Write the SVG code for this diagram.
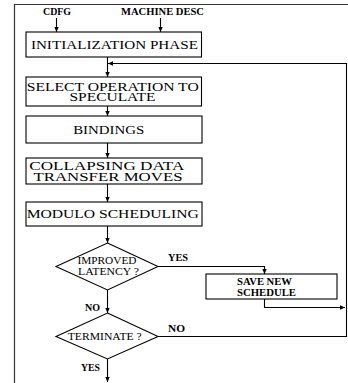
<svg xmlns="http://www.w3.org/2000/svg" width="348" height="383" viewBox="0 0 348 383">
  <style>
    .box { fill: #ffffff; stroke: #000000; stroke-width: 1.1; }
    .line { fill: none; stroke: #000000; stroke-width: 1.1; marker-end: url(#arrow); }
    .plain { fill: none; stroke: #333333; stroke-width: 1.2; }
    text { font-family: "Liberation Serif", "Times New Roman", serif; fill: #000000; text-anchor: middle; }
    .big { font-size: 13px; }
    .small { font-size: 10.5px; font-weight: bold; }
    .mid { font-size: 11px; }
  </style>
  <defs>
    <marker id="arrow" markerWidth="6" markerHeight="6" refX="5" refY="3" orient="auto" markerUnits="userSpaceOnUse">
      <path d="M0,0.8 L5,3 L0,5.2 Z" fill="#000000"/>
    </marker>
  </defs>
  <rect width="348" height="383" fill="#ffffff"/>

  <!-- outer frame -->
  <path class="plain" d="M14.5,383 V4.5 H348"/>

  <!-- connectors -->
  <g id="connectors">
    <line class="line" x1="56.5" y1="18" x2="56.5" y2="32"/>
    <line class="line" x1="160.5" y1="18" x2="160.5" y2="32"/>
    <line class="line" x1="107.5" y1="57" x2="107.5" y2="77"/>
    <line class="line" x1="107.5" y1="106" x2="107.5" y2="116"/>
    <line class="line" x1="107.5" y1="143" x2="107.5" y2="158"/>
    <line class="line" x1="107.5" y1="184" x2="107.5" y2="202"/>
    <line class="line" x1="107.5" y1="226" x2="107.5" y2="243"/>
    <polyline class="line" points="158,266.5 264.5,266.5 264.5,274"/>
    <polyline class="line" points="264.5,299 264.5,307.5 345,307.5"/>
    <line class="line" x1="107.5" y1="290" x2="107.5" y2="313"/>
    <polyline class="line" points="158,336.5 346.5,336.5 346.5,63.5 108,63.5"/>
    <line class="line" x1="107.5" y1="359" x2="107.5" y2="382"/>
    <text class="small" x="178" y="261" textLength="20" lengthAdjust="spacingAndGlyphs">YES</text>
    <text class="small" x="92.5" y="311" textLength="15" lengthAdjust="spacingAndGlyphs">NO</text>
    <text class="small" x="176.5" y="332" textLength="17" lengthAdjust="spacingAndGlyphs">NO</text>
    <text class="small" x="90.5" y="371" textLength="19" lengthAdjust="spacingAndGlyphs">YES</text>
  </g>

  <!-- inputs -->
  <g id="inputs">
    <text class="small" x="57" y="15" textLength="28" lengthAdjust="spacingAndGlyphs">CDFG</text>
    <text class="small" x="162.5" y="15" textLength="83" lengthAdjust="spacingAndGlyphs">MACHINE DESC</text>
  </g>

  <g id="init">
    <rect class="box" x="26" y="32" width="175.5" height="25"/>
    <text class="big" x="114.4" y="48.5" textLength="167" lengthAdjust="spacingAndGlyphs">INITIALIZATION PHASE</text>
  </g>

  <g id="select">
    <rect class="box" x="26" y="77" width="175.5" height="29"/>
    <text class="big" x="112.7" y="90.5" textLength="172" lengthAdjust="spacingAndGlyphs">SELECT OPERATION TO</text>
    <text class="big" x="112.5" y="100.5" textLength="86" lengthAdjust="spacingAndGlyphs">SPECULATE</text>
  </g>

  <g id="bindings">
    <rect class="box" x="26" y="116" width="176" height="27"/>
    <text class="big" x="108.7" y="133.5" textLength="71" lengthAdjust="spacingAndGlyphs">BINDINGS</text>
  </g>

  <g id="collapsing">
    <rect class="box" x="26" y="158" width="176" height="26"/>
    <text class="big" x="106.8" y="170" textLength="155" lengthAdjust="spacingAndGlyphs">COLLAPSING DATA</text>
    <text class="big" x="108" y="180.5" textLength="149" lengthAdjust="spacingAndGlyphs">TRANSFER MOVES</text>
  </g>

  <g id="modulo">
    <rect class="box" x="26" y="202" width="176" height="24"/>
    <text class="big" x="112.7" y="218" textLength="172" lengthAdjust="spacingAndGlyphs">MODULO SCHEDULING</text>
  </g>

  <g id="improved">
    <polygon class="box" points="107.5,243 158,266.5 107.5,290 56,266.5"/>
    <text class="mid" x="107" y="264" textLength="59" lengthAdjust="spacingAndGlyphs">IMPROVED</text>
    <text class="mid" x="108.5" y="274.5" textLength="61" lengthAdjust="spacingAndGlyphs">LATENCY ?</text>
  </g>

  <g id="save">
    <rect class="box" x="206" y="274" width="131" height="25"/>
    <text class="small" x="264.5" y="285" textLength="55" lengthAdjust="spacingAndGlyphs">SAVE NEW</text>
    <text class="small" x="266.5" y="295.5" textLength="59" lengthAdjust="spacingAndGlyphs">SCHEDULE</text>
  </g>

  <g id="terminate">
    <polygon class="box" points="107.5,313 158,336.5 107.5,359 56,336.5"/>
    <text class="mid" x="104.7" y="340" textLength="74" lengthAdjust="spacingAndGlyphs">TERMINATE ?</text>
  </g>
</svg>
